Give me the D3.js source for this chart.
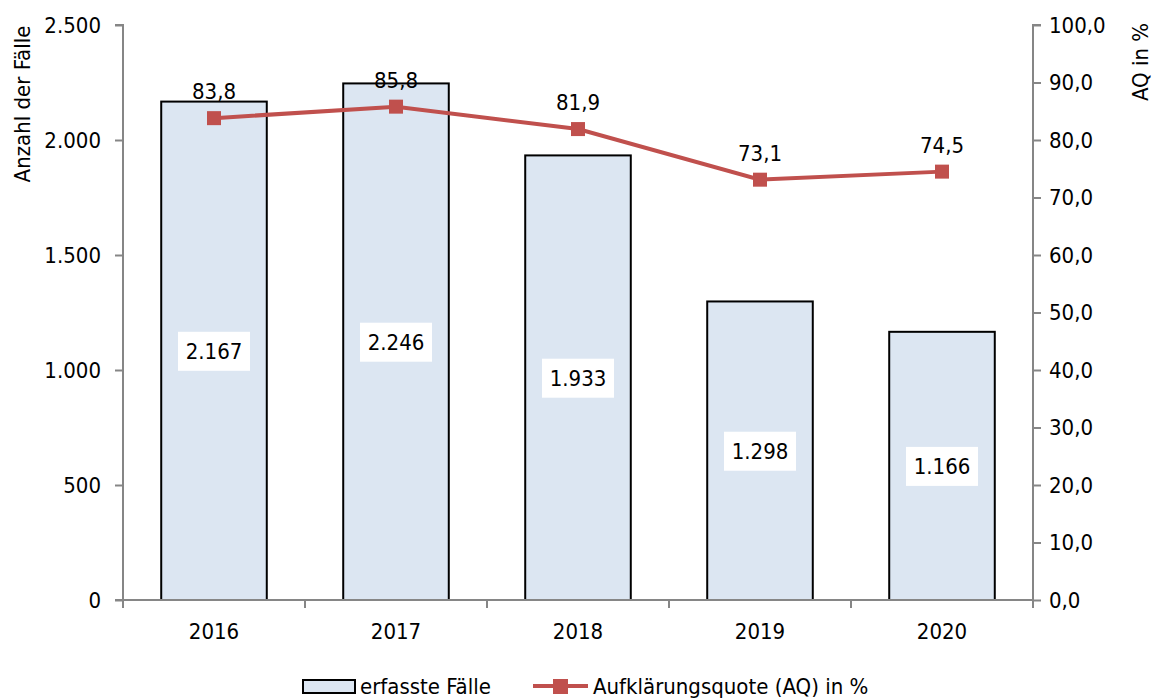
<!DOCTYPE html>
<html>
<head>
<meta charset="utf-8">
<script src="https://cdn.jsdelivr.net/npm/d3@7"></script>
<style>
body{margin:0;background:#fff;}
text{font-family:"DejaVu Sans Condensed","Liberation Sans Narrow",sans-serif;font-stretch:condensed;fill:#000;}
</style>
</head>
<body>
<div id="chart"></div>
<script>
// Daten
var jahre=["2016","2017","2018","2019","2020"]
var faelle=[2167,2246,1933,1298,1166]
var quote=[83.8,85.8,81.9,73.1,74.5]
var ticksLinks=[0,500,1000,1500,2000,2500]
var ticksRechts=[0,10,20,30,40,50,60,70,80,90,100]

var ancho=1157, alto=700
var margin={top:25,bottom:100,left:123,right:124}
var w=ancho-margin.left-margin.right
var h=alto-margin.top-margin.bottom
var fs="22px"

var svg=d3.select("#chart").append("svg")
	.attr("width",ancho).attr("height",alto)
var g=svg.append("g").attr("transform","translate("+margin.left+","+margin.top+")")

var fmtN=d3.formatLocale({decimal:",",thousands:".",grouping:[3],currency:["","€"]})
var fmtInt=fmtN.format(",d")
var fmtDec=fmtN.format(".1f")

var escalaX=d3.scaleBand().domain(jahre).range([0,w]).paddingInner(0.42).paddingOuter(0.21)
var escalaBand=d3.scaleBand().domain(jahre).range([0,w])
var escalaY=d3.scaleLinear().domain([0,2500]).range([h,0])
var escalaY2=d3.scaleLinear().domain([0,100]).range([h,0])

var gris="#868686", rojo="#C0504D"

// Balken
g.selectAll(".bar").data(jahre).enter().append("rect")
	.attr("x",d=>escalaX(d))
	.attr("width",escalaX.bandwidth())
	.attr("y",(d,i)=>escalaY(faelle[i]))
	.attr("height",(d,i)=>h-escalaY(faelle[i]))
	.attr("fill","#DCE6F2").attr("stroke","#000").attr("stroke-width",2)

// Achsen
var ejeY=g.append("g").call(d3.axisLeft(escalaY).tickValues(ticksLinks).tickFormat(fmtInt).tickSizeOuter(0).tickSize(8).tickPadding(14))
var ejeY2=g.append("g").attr("transform","translate("+w+",0)")
	.call(d3.axisRight(escalaY2).tickValues(ticksRechts).tickFormat(fmtDec).tickSizeOuter(0).tickSize(8).tickPadding(8))
var ejeX=g.append("g").attr("transform","translate(0,"+h+")")
	.call(d3.axisBottom(escalaBand).tickSize(0).tickPadding(23))
// Trennstriche zwischen Kategorien
ejeX.selectAll(".sep").data(d3.range(jahre.length+1)).enter().append("line")
	.attr("x1",i=>i*escalaBand.step()).attr("x2",i=>i*escalaBand.step())
	.attr("y1",0).attr("y2",8).attr("stroke",gris).attr("stroke-width",2)
;[ejeY,ejeY2,ejeX].forEach(function(e){
	e.selectAll("path").attr("stroke",gris).attr("stroke-width",2)
	e.selectAll("line").attr("stroke",gris).attr("stroke-width",2)
	e.selectAll("text").style("font-size",fs).attr("fill","#000")
		.style("font-family",'"DejaVu Sans Condensed","Liberation Sans Narrow",sans-serif')
})
ejeY.select("path").attr("d","M0,"+h+"V0h-8")
ejeY2.select("path").attr("d","M0,"+h+"V0h8")
ejeX.select("path").attr("d","M-8,0H"+w)

// Balkenbeschriftungen
var lab=g.selectAll(".lab").data(jahre).enter().append("g")
	.attr("transform",(d,i)=>"translate("+(escalaX(d)+escalaX.bandwidth()/2)+","+((escalaY(faelle[i])+h)/2)+")")
lab.append("rect").attr("x",-36).attr("y",-19).attr("width",72).attr("height",39).attr("fill","#fff")
lab.append("text").attr("text-anchor","middle").attr("dy","0.36em").style("font-size",fs)
	.text((d,i)=>fmtInt(faelle[i]))

// Linie
var cx=d=>escalaX(d)+escalaX.bandwidth()/2
var linea=d3.line().x((d,i)=>cx(jahre[i])).y(d=>escalaY2(d))
g.append("path").datum(quote).attr("d",linea).attr("fill","none").attr("stroke",rojo).attr("stroke-width",4)
g.selectAll(".mk").data(quote).enter().append("rect")
	.attr("x",(d,i)=>cx(jahre[i])-7).attr("y",d=>escalaY2(d)-7)
	.attr("width",14).attr("height",14).attr("fill",rojo)
g.selectAll(".ql").data(quote).enter().append("text")
	.attr("x",(d,i)=>cx(jahre[i])).attr("y",d=>escalaY2(d)-27)
	.attr("text-anchor","middle").attr("dy","0.36em").style("font-size",fs)
	.text(d=>fmtDec(d))

// Achsentitel
svg.append("text").attr("transform","translate(22,"+104+") rotate(-90)")
	.attr("text-anchor","middle").attr("dy","0.36em").style("font-size",fs).text("Anzahl der Fälle")
svg.append("text").attr("transform","translate(1140,"+62+") rotate(-90)")
	.attr("text-anchor","middle").attr("dy","0.36em").style("font-size",fs).text("AQ in %")

// Legende
var ly=686
svg.append("rect").attr("x",303).attr("y",ly-6).attr("width",52).attr("height",13)
	.attr("fill","#DCE6F2").attr("stroke","#000").attr("stroke-width",2)
svg.append("text").attr("x",360).attr("y",ly).attr("dy","0.36em").style("font-size",fs).text("erfasste Fälle")
svg.append("line").attr("x1",533).attr("x2",588).attr("y1",ly).attr("y2",ly).attr("stroke",rojo).attr("stroke-width",4)
svg.append("rect").attr("x",553).attr("y",ly-7).attr("width",15).attr("height",15).attr("fill",rojo)
svg.append("text").attr("x",593).attr("y",ly).attr("dy","0.36em").style("font-size",fs).text("Aufklärungsquote (AQ) in %")
</script>
</body>
</html>
